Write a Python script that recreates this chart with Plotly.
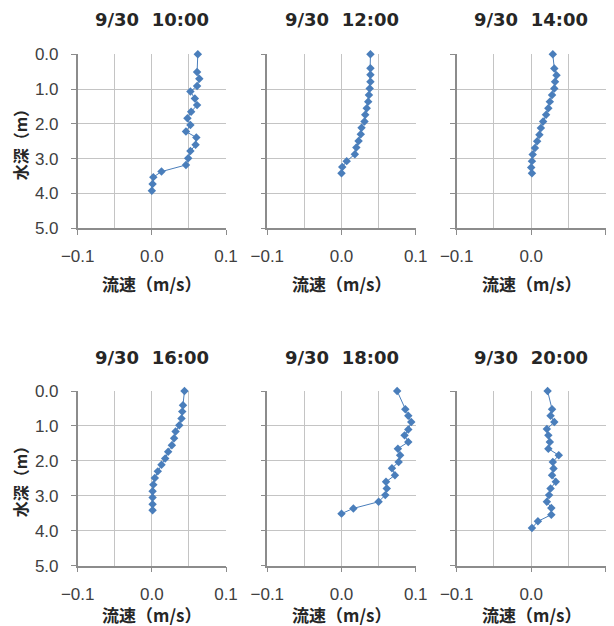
import plotly.graph_objects as go

# page has an 8px body margin, so the figure is drawn 8px in from the window edge
OFF = 8
W, H = 614 - OFF, 626 - OFF

titles = ["9/30  10:00", "9/30  12:00", "9/30  14:00",
          "9/30  16:00", "9/30  18:00", "9/30  20:00"]

# depth (m) and velocity (m/s) for each time
depth_1000 = [0.0, 0.51, 0.70, 0.91, 1.07, 1.27, 1.46, 1.65, 1.84, 2.03, 2.22,
              2.39, 2.60, 2.78, 2.99, 3.18, 3.37, 3.53, 3.73, 3.92]
vel_1000 = [0.062, 0.061, 0.064, 0.061, 0.052, 0.058, 0.061, 0.053, 0.048, 0.052,
            0.046, 0.060, 0.059, 0.052, 0.049, 0.046, 0.013, 0.002, 0.001, 0.000]

depth_1200 = [0.0, 0.40, 0.59, 0.79, 0.98, 1.17, 1.36, 1.55, 1.74, 1.93, 2.11,
              2.30, 2.49, 2.68, 2.87, 3.07, 3.24, 3.42]
vel_1200 = [0.039, 0.039, 0.039, 0.039, 0.038, 0.037, 0.036, 0.034, 0.032, 0.031,
            0.027, 0.026, 0.023, 0.020, 0.018, 0.007, 0.001, 0.000]

depth_1400 = [0.0, 0.41, 0.60, 0.79, 0.98, 1.17, 1.36, 1.55, 1.74, 1.93, 2.12,
              2.31, 2.50, 2.69, 2.88, 3.07, 3.25, 3.42]
vel_1400 = [0.029, 0.031, 0.034, 0.032, 0.031, 0.028, 0.025, 0.023, 0.020, 0.016,
            0.013, 0.011, 0.008, 0.005, 0.002, 0.001, 0.000, 0.001]

depth_1600 = [0.0, 0.41, 0.59, 0.79, 0.98, 1.16, 1.35, 1.55, 1.74, 1.93, 2.11,
              2.30, 2.49, 2.68, 2.87, 3.05, 3.24, 3.41]
vel_1600 = [0.044, 0.042, 0.041, 0.040, 0.037, 0.032, 0.030, 0.027, 0.022, 0.018,
            0.013, 0.008, 0.004, 0.002, 0.001, 0.001, 0.001, 0.001]

depth_1800 = [0.0, 0.52, 0.71, 0.89, 1.10, 1.27, 1.46, 1.65, 1.84, 2.03, 2.21,
              2.41, 2.60, 2.79, 2.98, 3.17, 3.36, 3.51]
vel_1800 = [0.075, 0.086, 0.090, 0.094, 0.090, 0.085, 0.090, 0.076, 0.079, 0.077,
            0.068, 0.072, 0.060, 0.061, 0.059, 0.050, 0.016, 0.000]

depth_2000 = [0.0, 0.52, 0.71, 0.89, 1.09, 1.27, 1.46, 1.65, 1.84, 2.03, 2.22,
              2.41, 2.60, 2.79, 2.98, 3.17, 3.35, 3.54, 3.73, 3.92]
vel_2000 = [0.022, 0.028, 0.026, 0.031, 0.021, 0.023, 0.025, 0.023, 0.037, 0.029,
            0.030, 0.028, 0.033, 0.026, 0.024, 0.021, 0.027, 0.027, 0.009, 0.001]

x_ticks = [-0.1, 0.0, 0.1]
y_ticks = [0, 1, 2, 3, 4, 5]
x_title = "流速（m/s）"
y_title = "水深（m）"

series = [(depth_1000, vel_1000), (depth_1200, vel_1200), (depth_1400, vel_1400),
          (depth_1600, vel_1600), (depth_1800, vel_1800), (depth_2000, vel_2000)]

# pixel geometry of plot areas (window pixels)
col_px = [(77.7, 226.0), (267.3, 415.7), (456.7, 605.7)]
row_px = [(54.3, 228.3), (391.0, 565.7)]
title_y_px = [20, 357]
xtitle_y_px = [283, 614]


def fx(px):
    return (px - OFF) / W


def fy(py):
    return 1 - (py - OFF) / H


BLUE = "#4A7EBB"
GRID = "#C4C4C4"
AXIS = "#8C8C8C"
TICKFONT = dict(family="Liberation Sans, Arial, sans-serif", size=17, color="#404040")
CJK = "Noto Sans CJK JP, sans-serif"
TITLEFONT = dict(family="DejaVu Sans, sans-serif", size=18, color="#262626", weight="bold")

fig = go.Figure()
annotations = []
layout = {}
for i, (d, v) in enumerate(series):
    r, c = divmod(i, 3)
    n = "" if i == 0 else str(i + 1)
    fig.add_trace(go.Scatter(
        x=v, y=d, mode="lines+markers",
        line=dict(color=BLUE, width=1),
        marker=dict(symbol="diamond", size=6.5, color=BLUE),
        xaxis="x" + n, yaxis="y" + n, showlegend=False, cliponaxis=False))
    x0, x1 = col_px[c]
    yt, yb = row_px[r]
    layout["xaxis" + n] = dict(
        domain=[fx(x0), fx(x1)], anchor="y" + n, automargin=False,
        range=[-0.1, 0.1], tickvals=x_ticks, tickformat=".1f",
        showgrid=True, gridcolor=GRID, gridwidth=1,
        minor=dict(dtick=0.05, showgrid=True, gridcolor=GRID, ticks=""),
        zeroline=False, showline=True, linecolor=AXIS, linewidth=1.5,
        ticks="outside", ticklen=5, tickcolor=AXIS, ticklabelstandoff=7,
        tickfont=TICKFONT, fixedrange=True)
    layout["yaxis" + n] = dict(
        domain=[fy(yb), fy(yt)], anchor="x" + n, automargin=False,
        range=[5, 0], tickvals=y_ticks, tickformat=".1f",
        showgrid=True, gridcolor=GRID, gridwidth=1,
        zeroline=False, showline=True, linecolor=AXIS, linewidth=1.5,
        ticks="outside", ticklen=5, tickcolor=AXIS, ticklabelstandoff=9,
        showticklabels=(c == 0),
        tickfont=TICKFONT, fixedrange=True)
    cx = fx((x0 + x1) / 2)
    annotations.append(dict(
        text=titles[i], x=cx, y=fy(title_y_px[r]), xref="paper", yref="paper",
        showarrow=False, xanchor="center", yanchor="middle", font=TITLEFONT))
    annotations.append(dict(
        text=x_title, x=cx, y=fy(xtitle_y_px[r]), xref="paper", yref="paper",
        showarrow=False, xanchor="center", yanchor="middle",
        font=dict(family=CJK, size=17, color="#262626", weight="bold")))
    if c == 0:
        annotations.append(dict(
            text=y_title, x=fx(20), y=fy((yt + yb) / 2), xref="paper", yref="paper",
            showarrow=False, xanchor="center", yanchor="middle", textangle=-90,
            font=dict(family=CJK, size=16, color="#262626", weight="bold")))

fig.update_layout(
    width=W, height=H, margin=dict(l=0, r=0, t=0, b=0),
    paper_bgcolor="white", plot_bgcolor="white",
    annotations=annotations, **layout)

fig.write_html("out.html", config=dict(displayModeBar=False))
